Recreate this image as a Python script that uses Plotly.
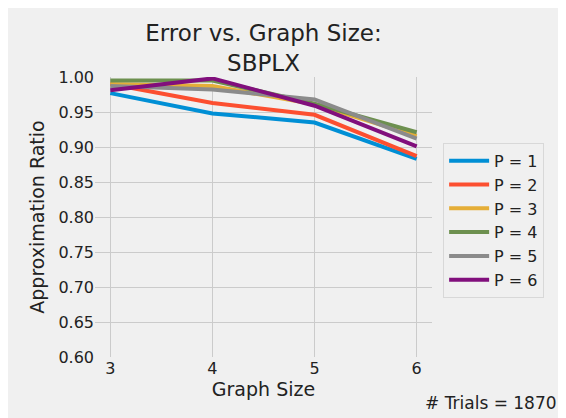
import plotly.graph_objects as go

graph_sizes = [3, 4, 5, 6]
p1 = [0.977, 0.948, 0.935, 0.883]
p2 = [0.990, 0.963, 0.946, 0.887]
p3 = [0.990, 0.987, 0.961, 0.916]
p4 = [0.995, 0.995, 0.962, 0.921]
p5 = [0.987, 0.982, 0.968, 0.912]
p6 = [0.981, 0.998, 0.959, 0.901]

series = [('P = 1', p1), ('P = 2', p2), ('P = 3', p3),
          ('P = 4', p4), ('P = 5', p5), ('P = 6', p6)]
colors = ['#008fd5', '#fc4f30', '#e5ae38', '#6d904f', '#8b8b8b', '#810f7c']
trials = 1870

font = 'DejaVu Sans'
bg = '#f0f0f0'
grid = '#cbcbcb'

fig = go.Figure()
for (name, vals), col in zip(series, colors):
    fig.add_trace(go.Scatter(x=graph_sizes, y=vals, mode='lines', name=name,
                             line=dict(color=col, width=4)))

# page has an 8px body margin, so the figure is drawn 8px smaller
fig.update_layout(
    width=558, height=410,
    paper_bgcolor=bg, plot_bgcolor=bg,
    margin=dict(l=87, r=134, t=69, b=61),
    font=dict(family=font, size=16, color='#222222'),
    title=dict(text='Error vs. Graph Size:<br>SBPLX', x=0.5, xref='paper',
               y=0.920, yref='container', yanchor='middle',
               font=dict(family=font, size=23, color='#222222')),
    xaxis=dict(range=[2.85, 6.15], tickvals=graph_sizes, showgrid=True,
               gridcolor=grid, gridwidth=1, zeroline=False, showline=False,
               ticks='', title=dict(text='Graph Size', font=dict(size=19), standoff=4)),
    yaxis=dict(range=[0.6, 1.0], dtick=0.05, tickformat='.2f', showgrid=True,
               gridcolor=grid, gridwidth=1, zeroline=False, showline=False,
               ticks='', title=dict(text='Approximation Ratio', font=dict(size=19), standoff=8)),
    legend=dict(x=1.033, y=0.765, xanchor='left', yanchor='top',
                bgcolor=bg, bordercolor='#d8d8d8', borderwidth=1,
                font=dict(size=16), itemwidth=40),
    annotations=[dict(text=f'# Trials = {trials}', xref='paper', yref='paper',
                      x=1.378, y=-0.164, xanchor='right', yanchor='middle',
                      showarrow=False, font=dict(size=17))],
)

fig.write_html('out.html')
